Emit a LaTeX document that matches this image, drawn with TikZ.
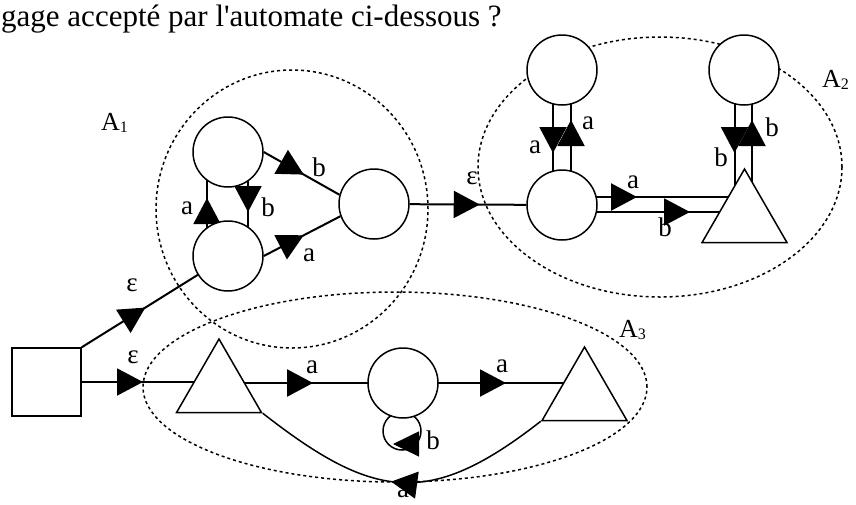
\documentclass[tikz,border=0pt]{standalone}
\usepackage{fontspec}
\newfontfamily\lserif{Liberation Serif}
\usetikzlibrary{arrows.meta,shapes.geometric,decorations.markings,calc}
\pgfdeclarelayer{bg}
\pgfsetlayers{bg,main}
\begin{document}
\begin{tikzpicture}[x=1pt,y=1pt,
  state/.style={circle,draw,line width=1.5pt,fill=white,minimum size=70pt,inner sep=0pt},
  tri/.style={regular polygon,regular polygon sides=3,draw,line width=1.5pt,fill=white,minimum size=98pt,inner sep=0pt},
  startbox/.style={rectangle,draw,line width=1.5pt,fill=white,minimum width=69pt,minimum height=68pt,inner sep=0pt},
  region/.style={ellipse,draw,line width=1.5pt,dash pattern=on 3pt off 3pt,inner sep=0pt},
  conn/.style={line width=2pt},
  lab/.style={font=\lserif\fontsize{27}{27}\selectfont,inner sep=0pt},
  reglab/.style={font=\lserif\fontsize{26}{26}\selectfont,inner sep=0pt,anchor=base west},
  arrowat/.style={postaction={decorate},decoration={markings,mark=at position #1 with {\arrow{Triangle[length=26pt,width=27pt]}}}},
  % loop arrow: placed at the bottom of the loop, nudged up and forward
  looparrow/.style={postaction={decorate},decoration={markings,mark=at position 29.8pt with {\pgftransformshift{\pgfpoint{9pt}{-6pt}}\arrow{Triangle[length=26pt,width=25pt]}}}},
]
\useasboundingbox (0,0) rectangle (856,-504);

% title line
\node[font=\lserif\fontsize{31}{37}\selectfont,anchor=base west,inner sep=0pt] (title) at (1,-26) {gage accepté par l'automate ci-dessous ?};

% states
\node[startbox] (sq) at (46.5,-382) {};
\node[tri] (t1) at (219,-388) {};
\node[state] (m3) at (403,-383) {};
\node[tri] (t2) at (584.5,-396) {};
\node[state] (u1) at (228,-152) {};
\node[state] (l1) at (228,-256) {};
\node[state] (r1) at (374,-204) {};
\node[state] (c2) at (562,-205) {};
\node[state] (p2) at (562,-70) {};
\node[state] (q2) at (744,-70) {};
\node[tri] (t3) at (744.5,-218) {};

\coordinate (q2l) at ([xshift=-9.5pt]q2.center);
\coordinate (q2r) at ([xshift=8pt]q2.center);

\begin{pgfonlayer}{bg}
  % sub-automaton regions
  \node[region,minimum width=272pt,minimum height=278pt] (reg1) at (292,-209) {};
  \node[region,minimum width=364pt,minimum height=260pt] (reg2) at (660,-167) {};
  \node[region,minimum width=504pt,minimum height=190pt] (reg3) at (395,-387) {};

  % A1
  \draw[conn,arrowat=75pt] (sq.north east) -- (l1.center);
  \draw[conn,arrowat=58pt] ([xshift=-21pt]l1.center) -- ([xshift=-21pt]u1.center);
  \draw[conn,arrowat=60pt] ([xshift=20pt]u1.center) -- ([xshift=20pt]l1.center);
  \draw[conn,arrowat=46pt] (u1.east) -- (r1.165);
  \draw[conn,arrowat=45pt] (l1.east) -- (r1.200);
  \draw[conn,arrowat=70pt] (r1) -- (c2);

  % A2
  \draw[conn,arrowat=83pt] ([xshift=-9pt]p2.center) -- ([xshift=-9pt]c2.center);
  \draw[conn,arrowat=85pt] ([xshift=9pt]c2.center) -- ([xshift=9pt]p2.center);
  \draw[conn,line width=2.4pt,arrowat=75pt] ([yshift=8pt]c2.center) -- ++(182,0);
  \draw[conn,arrowat=128pt] ([yshift=-7pt]c2.center) -- ++(182,0);
  \draw[conn,arrowat=83pt] (q2l) -- (q2l |- t3.center);
  \draw[conn,arrowat=98pt] (q2r |- t3.center) -- (q2r);

  % A3
  \draw[conn,arrowat=96.5pt] (sq.center) -- (sq.center -| t1.center);
  \draw[conn,line width=2.6pt,arrowat=94pt] (t1.center |- m3.center) -- (m3.center);
  \draw[conn,arrowat=103pt] (m3.center) -- (m3.center -| t2.center);
  \draw[line width=1.5pt,arrowat=0.53] (t2.corner 2) to[out=-142,in=-38,looseness=1.3] (t1.corner 3);
  \draw[line width=1.5pt,looparrow] ([shift={(18,-48)}]m3.center) arc[start angle=0,end angle=-360,radius=19];
\end{pgfonlayer}

% transition labels
\node[lab] (eA) at (132,-285) {ε};
\node[lab] (eB) at (133,-357) {ε};
\node[lab] (aT1) at (312,-367) {a};
\node[lab] (aT2) at (502,-366) {a};
\node[lab] (bLp) at (433,-440) {b};
\node[lab] (aB) at (403,-491) {a};
\node[lab] (aU) at (187,-208) {a};
\node[lab] (bD) at (268,-207) {b};
\node[lab] (bR) at (319,-167) {b};
\node[lab] (aR) at (309,-255) {a};
\node[lab] (eC) at (472,-178) {ε};
\node[lab] (aL2) at (535,-147) {a};
\node[lab] (aR2) at (588,-123) {a};
\node[lab] (aH) at (633,-182) {a};
\node[lab] (bH) at (665,-227) {b};
\node[lab] (bL3) at (721,-157) {b};
\node[lab] (bR3) at (772,-127) {b};

% region names
\node[reglab] (n1) at (101,-130) {A\raisebox{-0.2ex}{\fontsize{16}{16}\selectfont 1}};
\node[reglab] (n2) at (822,-87) {A\raisebox{-0.2ex}{\fontsize{16}{16}\selectfont 2}};
\node[reglab] (n3) at (619,-337) {A\raisebox{-0.2ex}{\fontsize{16}{16}\selectfont 3}};
\end{tikzpicture}
\end{document}
